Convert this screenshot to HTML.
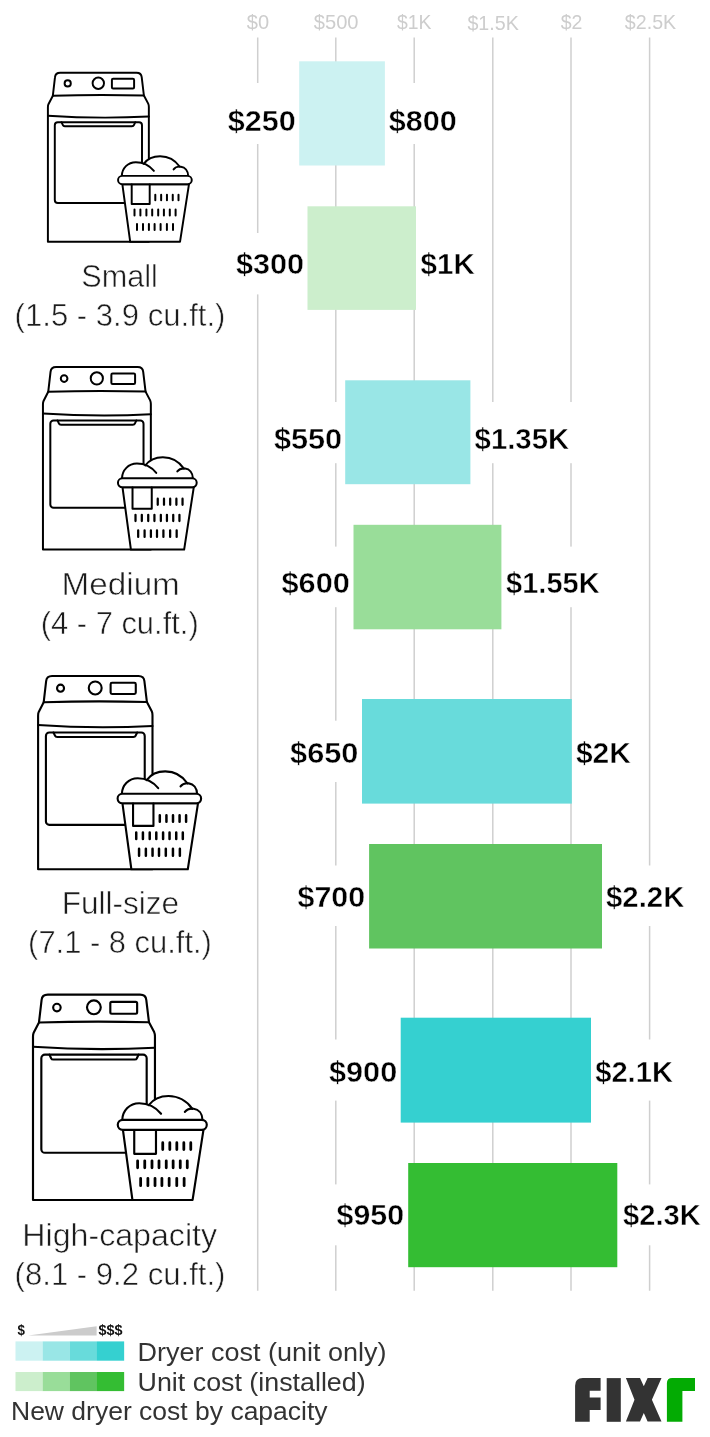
<!DOCTYPE html>
<html><head><meta charset="utf-8"><title>New dryer cost by capacity</title>
<style>
html,body{margin:0;padding:0;background:#fff;}
body{width:710px;height:1437px;overflow:hidden;font-family:"Liberation Sans",sans-serif;}
svg{display:block;will-change:transform;}
text{font-family:"Liberation Sans",sans-serif;}
.ax{font-size:21px;fill:#cdcdcd;}
.val{font-size:30.1px;font-weight:bold;fill:#000;stroke:#fff;stroke-width:0.45px;paint-order:fill stroke;}
.cat{font-size:32px;fill:#1c1c1c;stroke:#fff;stroke-width:0.55px;paint-order:fill stroke;}
.leg{font-size:25.5px;fill:#333;}
.ds{font-size:15.5px;font-weight:bold;fill:#111;}
.ic{fill:none;stroke:#000;stroke-linecap:round;stroke-linejoin:round;vector-effect:non-scaling-stroke;}
.icw{fill:#fff;stroke:#000;stroke-linecap:round;stroke-linejoin:round;vector-effect:non-scaling-stroke;}
</style></head><body>
<svg width="710" height="1437" viewBox="0 0 710 1437">
<rect width="710" height="1437" fill="#fff"/>


<g stroke="#cfcfcf" stroke-width="1.5">
<line x1="257.7" y1="37.6" x2="257.7" y2="1290.8"/>
<line x1="335.8" y1="37.6" x2="335.8" y2="1290.8"/>
<line x1="414.2" y1="37.6" x2="414.2" y2="1290.8"/>
<line x1="492.8" y1="37.6" x2="492.8" y2="1290.8"/>
<line x1="571.0" y1="37.6" x2="571.0" y2="1290.8"/>
<line x1="649.6" y1="37.6" x2="649.6" y2="1290.8"/>
</g>
<text class="ax" x="258" y="28.8" text-anchor="middle" textLength="22.3" lengthAdjust="spacingAndGlyphs">$0</text>
<text class="ax" x="336.2" y="28.8" text-anchor="middle" textLength="44.7" lengthAdjust="spacingAndGlyphs">$500</text>
<text class="ax" x="414.3" y="28.8" text-anchor="middle" textLength="34.5" lengthAdjust="spacingAndGlyphs">$1K</text>
<text class="ax" x="493.1" y="30.2" text-anchor="middle" textLength="51.4" lengthAdjust="spacingAndGlyphs">$1.5K</text>
<text class="ax" x="571.5" y="28.8" text-anchor="middle" textLength="21.7" lengthAdjust="spacingAndGlyphs">$2</text>
<text class="ax" x="650.5" y="28.8" text-anchor="middle" textLength="51.3" lengthAdjust="spacingAndGlyphs">$2.5K</text>
<rect x="223.6" y="83" width="75.6" height="61" fill="#fff"/>
<rect x="384.9" y="83" width="76.0" height="61" fill="#fff"/>
<rect x="231.9" y="233" width="75.6" height="61.39999999999998" fill="#fff"/>
<rect x="416.0" y="233" width="62.89999999999998" height="61.39999999999998" fill="#fff"/>
<rect x="269.8" y="402" width="75.39999999999998" height="61.19999999999999" fill="#fff"/>
<rect x="470.4" y="402" width="102.89999999999998" height="61.19999999999999" fill="#fff"/>
<rect x="277.4" y="546.6" width="76.10000000000002" height="60.60000000000002" fill="#fff"/>
<rect x="501.4" y="546.6" width="102.30000000000007" height="60.60000000000002" fill="#fff"/>
<rect x="286.0" y="720.7" width="76.0" height="61.299999999999955" fill="#fff"/>
<rect x="571.8" y="720.7" width="63.200000000000045" height="61.299999999999955" fill="#fff"/>
<rect x="293.4" y="865.5" width="75.70000000000005" height="60.5" fill="#fff"/>
<rect x="602.0" y="865.5" width="86.5" height="60.5" fill="#fff"/>
<rect x="324.9" y="1039.5" width="75.80000000000001" height="61.09999999999991" fill="#fff"/>
<rect x="591.0" y="1039.5" width="86.10000000000002" height="61.09999999999991" fill="#fff"/>
<rect x="332.4" y="1184.4" width="75.80000000000001" height="60.899999999999864" fill="#fff"/>
<rect x="617.3" y="1184.4" width="87.70000000000005" height="60.899999999999864" fill="#fff"/>
<rect x="299.2" y="61.3" width="85.7" height="104.2" fill="#ccf2f2"/>
<rect x="307.5" y="206.3" width="108.5" height="103.6" fill="#cceecc"/>
<rect x="345.2" y="380.3" width="125.2" height="103.9" fill="#99e6e6"/>
<rect x="353.5" y="524.8" width="147.9" height="104.5" fill="#99dd99"/>
<rect x="362.0" y="699.0" width="209.8" height="104.6" fill="#68dbdb"/>
<rect x="369.1" y="844.0" width="232.9" height="104.5" fill="#60c460"/>
<rect x="400.7" y="1017.7" width="190.3" height="104.9" fill="#35d0d0"/>
<rect x="408.2" y="1163.0" width="209.1" height="104.2" fill="#34bd33"/>
<text class="val" x="227.7" y="130.8" textLength="68.0" lengthAdjust="spacingAndGlyphs">$250</text>
<text class="val" x="388.8" y="130.8" textLength="68.0" lengthAdjust="spacingAndGlyphs">$800</text>
<text class="val" x="236.0" y="274.3" textLength="68.1" lengthAdjust="spacingAndGlyphs">$300</text>
<text class="val" x="420.5" y="274.3" textLength="54.3" lengthAdjust="spacingAndGlyphs">$1K</text>
<text class="val" x="273.9" y="449.4" textLength="68.2" lengthAdjust="spacingAndGlyphs">$550</text>
<text class="val" x="474.6" y="449.4" textLength="94.6" lengthAdjust="spacingAndGlyphs">$1.35K</text>
<text class="val" x="281.5" y="593.3" textLength="68.3" lengthAdjust="spacingAndGlyphs">$600</text>
<text class="val" x="506.1" y="593.3" textLength="93.5" lengthAdjust="spacingAndGlyphs">$1.55K</text>
<text class="val" x="290.1" y="762.7" textLength="68.3" lengthAdjust="spacingAndGlyphs">$650</text>
<text class="val" x="575.9" y="762.7" textLength="55.0" lengthAdjust="spacingAndGlyphs">$2K</text>
<text class="val" x="297.5" y="907.4" textLength="67.7" lengthAdjust="spacingAndGlyphs">$700</text>
<text class="val" x="606.0" y="907.4" textLength="78.4" lengthAdjust="spacingAndGlyphs">$2.2K</text>
<text class="val" x="329.0" y="1081.8" textLength="68.2" lengthAdjust="spacingAndGlyphs">$900</text>
<text class="val" x="595.2" y="1081.8" textLength="77.8" lengthAdjust="spacingAndGlyphs">$2.1K</text>
<text class="val" x="336.5" y="1225.2" textLength="67.6" lengthAdjust="spacingAndGlyphs">$950</text>
<text class="val" x="623.1" y="1225.2" textLength="77.8" lengthAdjust="spacingAndGlyphs">$2.3K</text>
<g transform="translate(48.3,72.2) scale(1,1)" style="stroke-width:1.95">
 <path class="icw" d="M4.55,23.5 L6.7,5 Q7.1,0.55 11.9,0.55 L88.2,0.55 Q93,0.55 93.4,5 L95.6,23.3 L99.9,31.4 Q100.55,32.8 100.55,34.8 L100.55,169.65 L-0.4,169.65 L-0.4,35.3 Q-0.4,33.2 0.15,32 Z"/>
 <path class="ic" d="M4.55,23.5 Q50,22.1 95.6,23.3"/>
 <path class="ic" d="M-0.4,43.5 Q50,46.9 100.55,44.3"/>
 <rect class="ic" x="6.5" y="50" width="87.2" height="80.8" rx="3"/>
 <path class="ic" d="M13.2,50 L14.6,53 Q15,54 16.5,54 L83.7,54 Q85.2,54 85.6,53 L87,50"/>
 <circle class="ic" cx="19.4" cy="11.2" r="3.1"/>
 <circle class="ic" cx="50" cy="11.05" r="5.7"/>
 <rect class="ic" x="63.6" y="6.5" width="22.2" height="9.8" rx="1.2"/>
 <path fill="#fff" stroke="none" d="M73.5,103.65 C73.8,96 79.5,89.97 87.55,89.97 C90.8,89.97 93.5,90.8 95.4,91.9 C98.8,87 104.5,84 111.77,84 C119.5,84 127,88 131.5,94.5 C136.8,95 139.7,98.6 139.9,103.65 Z"/>
 <path class="ic" d="M73.5,103.65 C73.8,96 79.5,89.97 87.55,89.97 C94.5,89.97 101,93 105.6,98.65"/>
 <path class="ic" d="M95.4,91.6 C98.8,87 104.5,84 111.77,84 C119.5,84 127,88 131.5,94.6"/>
 <path class="ic" d="M125.3,97.2 C127,94.8 130,94.2 132.6,94.5 C136.8,95 139.7,98.6 139.9,103.65"/>
 <path class="icw" d="M74.04,111.95 L81.9,169.65 L131.7,169.65 L140.7,111.95 Z"/>
 <rect class="icw" x="69.76" y="103.65" width="73.7" height="8.3" rx="4.15"/>
 <path class="ic" d="M83.4,112.2 V131.7 H101.4 V112.2"/>
 <g class="ic" style="stroke-width:2.0">
  <path d="M107,122.5V128.1M112.85,122.5V128.1M118.65,122.5V128.1M124.45,122.5V128.1M130.2,122.5V128.1"/>
  <path d="M86.2,137.4V143.2M92.1,137.4V143.2M98.1,137.4V143.2M103.9,137.4V143.2M109.9,137.4V143.2M115.6,137.4V143.2M121.5,137.4V143.2M127.3,137.4V143.2"/>
  <path d="M88.7,151.8V157.85M94.7,151.8V157.85M100.6,151.8V157.85M106.3,151.8V157.85M112.3,151.8V157.85M118.6,151.8V157.85M124.7,151.8V157.85"/>
 </g>
</g>
<g transform="translate(43.38,366.45) scale(1.0688,1.0797)" style="stroke-width:2.0">
 <path class="icw" d="M4.55,23.5 L6.7,5 Q7.1,0.55 11.9,0.55 L88.2,0.55 Q93,0.55 93.4,5 L95.6,23.3 L99.9,31.4 Q100.55,32.8 100.55,34.8 L100.55,169.65 L-0.4,169.65 L-0.4,35.3 Q-0.4,33.2 0.15,32 Z"/>
 <path class="ic" d="M4.55,23.5 Q50,22.1 95.6,23.3"/>
 <path class="ic" d="M-0.4,43.5 Q50,46.9 100.55,44.3"/>
 <rect class="ic" x="6.5" y="50" width="87.2" height="80.8" rx="3"/>
 <path class="ic" d="M13.2,50 L14.6,53 Q15,54 16.5,54 L83.7,54 Q85.2,54 85.6,53 L87,50"/>
 <circle class="ic" cx="19.4" cy="11.2" r="3.1"/>
 <circle class="ic" cx="50" cy="11.05" r="5.7"/>
 <rect class="ic" x="63.6" y="6.5" width="22.2" height="9.8" rx="1.2"/>
 <path fill="#fff" stroke="none" d="M73.5,103.65 C73.8,96 79.5,89.97 87.55,89.97 C90.8,89.97 93.5,90.8 95.4,91.9 C98.8,87 104.5,84 111.77,84 C119.5,84 127,88 131.5,94.5 C136.8,95 139.7,98.6 139.9,103.65 Z"/>
 <path class="ic" d="M73.5,103.65 C73.8,96 79.5,89.97 87.55,89.97 C94.5,89.97 101,93 105.6,98.65"/>
 <path class="ic" d="M95.4,91.6 C98.8,87 104.5,84 111.77,84 C119.5,84 127,88 131.5,94.6"/>
 <path class="ic" d="M125.3,97.2 C127,94.8 130,94.2 132.6,94.5 C136.8,95 139.7,98.6 139.9,103.65"/>
 <path class="icw" d="M74.04,111.95 L81.9,169.65 L131.7,169.65 L140.7,111.95 Z"/>
 <rect class="icw" x="69.76" y="103.65" width="73.7" height="8.3" rx="4.15"/>
 <path class="ic" d="M83.4,112.2 V131.7 H101.4 V112.2"/>
 <g class="ic" style="stroke-width:2.1">
  <path d="M107,122.5V128.1M112.85,122.5V128.1M118.65,122.5V128.1M124.45,122.5V128.1M130.2,122.5V128.1"/>
  <path d="M86.2,137.4V143.2M92.1,137.4V143.2M98.1,137.4V143.2M103.9,137.4V143.2M109.9,137.4V143.2M115.6,137.4V143.2M121.5,137.4V143.2M127.3,137.4V143.2"/>
  <path d="M88.7,151.8V157.85M94.7,151.8V157.85M100.6,151.8V157.85M106.3,151.8V157.85M112.3,151.8V157.85M118.6,151.8V157.85M124.7,151.8V157.85"/>
 </g>
</g>
<g transform="translate(38.55,675.35) scale(1.1332,1.143)" style="stroke-width:2.1">
 <path class="icw" d="M4.55,23.5 L6.7,5 Q7.1,0.55 11.9,0.55 L88.2,0.55 Q93,0.55 93.4,5 L95.6,23.3 L99.9,31.4 Q100.55,32.8 100.55,34.8 L100.55,169.65 L-0.4,169.65 L-0.4,35.3 Q-0.4,33.2 0.15,32 Z"/>
 <path class="ic" d="M4.55,23.5 Q50,22.1 95.6,23.3"/>
 <path class="ic" d="M-0.4,43.5 Q50,46.9 100.55,44.3"/>
 <rect class="ic" x="6.5" y="50" width="87.2" height="80.8" rx="3"/>
 <path class="ic" d="M13.2,50 L14.6,53 Q15,54 16.5,54 L83.7,54 Q85.2,54 85.6,53 L87,50"/>
 <circle class="ic" cx="19.4" cy="11.2" r="3.1"/>
 <circle class="ic" cx="50" cy="11.05" r="5.7"/>
 <rect class="ic" x="63.6" y="6.5" width="22.2" height="9.8" rx="1.2"/>
 <path fill="#fff" stroke="none" d="M73.5,103.65 C73.8,96 79.5,89.97 87.55,89.97 C90.8,89.97 93.5,90.8 95.4,91.9 C98.8,87 104.5,84 111.77,84 C119.5,84 127,88 131.5,94.5 C136.8,95 139.7,98.6 139.9,103.65 Z"/>
 <path class="ic" d="M73.5,103.65 C73.8,96 79.5,89.97 87.55,89.97 C94.5,89.97 101,93 105.6,98.65"/>
 <path class="ic" d="M95.4,91.6 C98.8,87 104.5,84 111.77,84 C119.5,84 127,88 131.5,94.6"/>
 <path class="ic" d="M125.3,97.2 C127,94.8 130,94.2 132.6,94.5 C136.8,95 139.7,98.6 139.9,103.65"/>
 <path class="icw" d="M74.04,111.95 L81.9,169.65 L131.7,169.65 L140.7,111.95 Z"/>
 <rect class="icw" x="69.76" y="103.65" width="73.7" height="8.3" rx="4.15"/>
 <path class="ic" d="M83.4,112.2 V131.7 H101.4 V112.2"/>
 <g class="ic" style="stroke-width:2.2">
  <path d="M107,122.5V128.1M112.85,122.5V128.1M118.65,122.5V128.1M124.45,122.5V128.1M130.2,122.5V128.1"/>
  <path d="M86.2,137.4V143.2M92.1,137.4V143.2M98.1,137.4V143.2M103.9,137.4V143.2M109.9,137.4V143.2M115.6,137.4V143.2M121.5,137.4V143.2M127.3,137.4V143.2"/>
  <path d="M88.7,151.8V157.85M94.7,151.8V157.85M100.6,151.8V157.85M106.3,151.8V157.85M112.3,151.8V157.85M118.6,151.8V157.85M124.7,151.8V157.85"/>
 </g>
</g>
<g transform="translate(33.48,993.95) scale(1.2081,1.2143)" style="stroke-width:2.15">
 <path class="icw" d="M4.55,23.5 L6.7,5 Q7.1,0.55 11.9,0.55 L88.2,0.55 Q93,0.55 93.4,5 L95.6,23.3 L99.9,31.4 Q100.55,32.8 100.55,34.8 L100.55,169.65 L-0.4,169.65 L-0.4,35.3 Q-0.4,33.2 0.15,32 Z"/>
 <path class="ic" d="M4.55,23.5 Q50,22.1 95.6,23.3"/>
 <path class="ic" d="M-0.4,43.5 Q50,46.9 100.55,44.3"/>
 <rect class="ic" x="6.5" y="50" width="87.2" height="80.8" rx="3"/>
 <path class="ic" d="M13.2,50 L14.6,53 Q15,54 16.5,54 L83.7,54 Q85.2,54 85.6,53 L87,50"/>
 <circle class="ic" cx="19.4" cy="11.2" r="3.1"/>
 <circle class="ic" cx="50" cy="11.05" r="5.7"/>
 <rect class="ic" x="63.6" y="6.5" width="22.2" height="9.8" rx="1.2"/>
 <path fill="#fff" stroke="none" d="M73.5,103.65 C73.8,96 79.5,89.97 87.55,89.97 C90.8,89.97 93.5,90.8 95.4,91.9 C98.8,87 104.5,84 111.77,84 C119.5,84 127,88 131.5,94.5 C136.8,95 139.7,98.6 139.9,103.65 Z"/>
 <path class="ic" d="M73.5,103.65 C73.8,96 79.5,89.97 87.55,89.97 C94.5,89.97 101,93 105.6,98.65"/>
 <path class="ic" d="M95.4,91.6 C98.8,87 104.5,84 111.77,84 C119.5,84 127,88 131.5,94.6"/>
 <path class="ic" d="M125.3,97.2 C127,94.8 130,94.2 132.6,94.5 C136.8,95 139.7,98.6 139.9,103.65"/>
 <path class="icw" d="M74.04,111.95 L81.9,169.65 L131.7,169.65 L140.7,111.95 Z"/>
 <rect class="icw" x="69.76" y="103.65" width="73.7" height="8.3" rx="4.15"/>
 <path class="ic" d="M83.4,112.2 V131.7 H101.4 V112.2"/>
 <g class="ic" style="stroke-width:2.3">
  <path d="M107,122.5V128.1M112.85,122.5V128.1M118.65,122.5V128.1M124.45,122.5V128.1M130.2,122.5V128.1"/>
  <path d="M86.2,137.4V143.2M92.1,137.4V143.2M98.1,137.4V143.2M103.9,137.4V143.2M109.9,137.4V143.2M115.6,137.4V143.2M121.5,137.4V143.2M127.3,137.4V143.2"/>
  <path d="M88.7,151.8V157.85M94.7,151.8V157.85M100.6,151.8V157.85M106.3,151.8V157.85M112.3,151.8V157.85M118.6,151.8V157.85M124.7,151.8V157.85"/>
 </g>
</g>
<text class="cat" x="119.6" y="286.5" text-anchor="middle" textLength="76.6" lengthAdjust="spacingAndGlyphs">Small</text>
<text class="cat" x="120" y="326" text-anchor="middle" textLength="210.8" lengthAdjust="spacingAndGlyphs">(1.5 - 3.9 cu.ft.)</text>
<text class="cat" x="120.7" y="594.5" text-anchor="middle" textLength="118.2" lengthAdjust="spacingAndGlyphs">Medium</text>
<text class="cat" x="119.7" y="633.8" text-anchor="middle" textLength="158" lengthAdjust="spacingAndGlyphs">(4 - 7 cu.ft.)</text>
<text class="cat" x="120.4" y="913.8" text-anchor="middle" textLength="117.5" lengthAdjust="spacingAndGlyphs">Full-size</text>
<text class="cat" x="120" y="953.4" text-anchor="middle" textLength="183.8" lengthAdjust="spacingAndGlyphs">(7.1 - 8 cu.ft.)</text>
<text class="cat" x="119.7" y="1245.5" text-anchor="middle" textLength="194.8" lengthAdjust="spacingAndGlyphs">High-capacity</text>
<text class="cat" x="120" y="1285.2" text-anchor="middle" textLength="210.8" lengthAdjust="spacingAndGlyphs">(8.1 - 9.2 cu.ft.)</text>
<text class="ds" x="17.5" y="1334.7" textLength="7.4" lengthAdjust="spacingAndGlyphs">$</text>
<text class="ds" x="98.5" y="1334.7" textLength="24" lengthAdjust="spacingAndGlyphs">$$$</text>
<path d="M28.2,1335.4 L96.6,1335.4 L96.6,1326.2 Z" fill="#cccccc"/>
<rect x="15.5" y="1341.4" width="27.2" height="19.3" fill="#ccf2f2"/>
<rect x="15.5" y="1372" width="27.2" height="19.1" fill="#cceecc"/>
<rect x="42.65" y="1341.4" width="27.2" height="19.3" fill="#99e6e6"/>
<rect x="42.65" y="1372" width="27.2" height="19.1" fill="#99dd99"/>
<rect x="69.8" y="1341.4" width="27.2" height="19.3" fill="#68dbdb"/>
<rect x="69.8" y="1372" width="27.2" height="19.1" fill="#60c460"/>
<rect x="96.95" y="1341.4" width="27.2" height="19.3" fill="#35d0d0"/>
<rect x="96.95" y="1372" width="27.2" height="19.1" fill="#34bd33"/>
<text class="leg" x="137.6" y="1360.8" textLength="249" lengthAdjust="spacingAndGlyphs">Dryer cost (unit only)</text>
<text class="leg" x="137.6" y="1391.1" textLength="228" lengthAdjust="spacingAndGlyphs">Unit cost (installed)</text>
<text class="leg" x="11" y="1419.9" textLength="316.6" lengthAdjust="spacingAndGlyphs">New dryer cost by capacity</text>
<g fill="#333333">
<path d="M575.1,1421.8 L575.1,1385.8 Q575.1,1378.1 582.8,1378.1 L600.6,1378.1 L600.6,1390.7 L589.7,1390.7 L589.7,1397.6 L600.6,1397.6 L600.6,1409.9 L589.7,1409.9 L589.7,1421.8 Z"/>
<rect x="606.7" y="1378.1" width="14.1" height="43.7"/>
<path d="M625.9,1378.1 L640,1378.1 L643.8,1386.3 L647.6,1378.1 L661.5,1378.1 L651.9,1399.8 L661.5,1421.6 L647.6,1421.6 L643.8,1413 L640,1421.6 L625.9,1421.6 L634.5,1399.8 Z"/>
</g>
<path fill="#03ab03" d="M666.9,1421.7 L666.9,1383.2 Q666.9,1377.9 672.2,1377.9 L695,1377.9 L695,1391 L682.4,1391 L682.4,1421.7 Z"/>

</svg></body></html>
